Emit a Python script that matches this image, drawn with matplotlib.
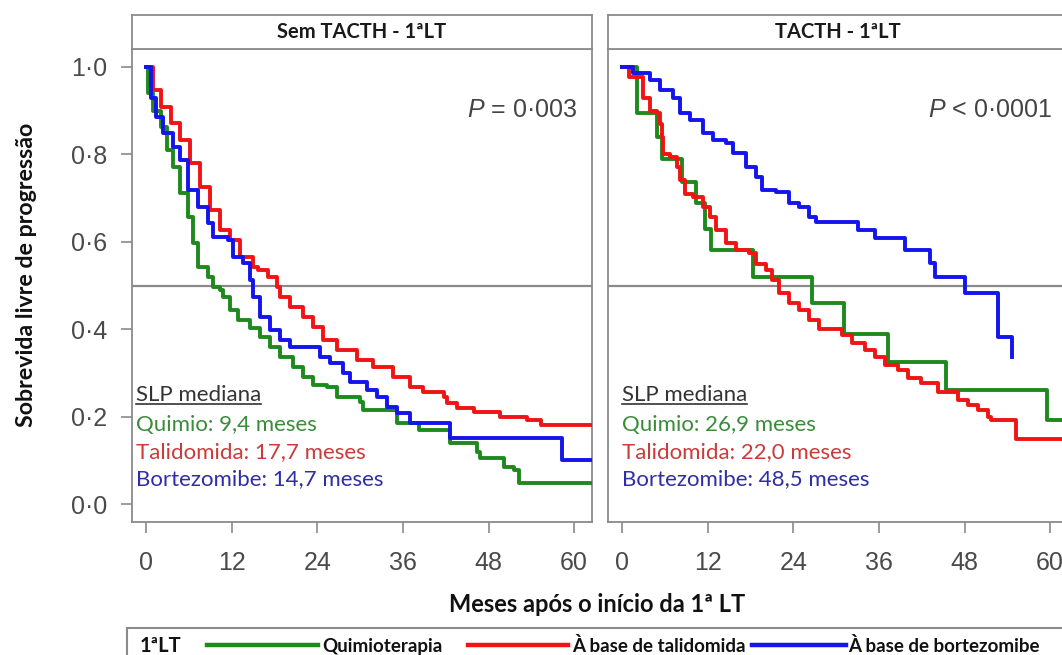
import matplotlib.pyplot as plt
from matplotlib.lines import Line2D
from matplotlib.patches import Rectangle

plt.rcParams['mathtext.fontset'] = 'custom'
plt.rcParams['mathtext.it'] = 'Liberation Sans:italic'
plt.rcParams['mathtext.rm'] = 'Liberation Sans'

# --- data (months, survival) ---
# Sem TACTH
sem_quimio_t = [0, 0.3, 1.0, 2.0, 2.9, 3.8, 4.8, 5.8, 6.6, 7.2, 8.6, 9.4, 10.4, 10.8, 11.8, 12.9,
                14.6, 16.0, 17.4, 18.8, 20.6, 22.0, 23.4, 25.4, 26.8, 30.0, 30.4, 35.2, 38.2,
                42.6, 46.4, 46.8, 50.1, 51.5, 52.2, 62.5]
sem_quimio_s = [1.0, 0.94, 0.90, 0.863, 0.81, 0.771, 0.712, 0.657, 0.597, 0.543, 0.52, 0.497,
                0.49, 0.474, 0.444, 0.421, 0.403, 0.382, 0.359, 0.336, 0.314, 0.291, 0.272,
                0.268, 0.245, 0.233, 0.215, 0.185, 0.169, 0.14, 0.119, 0.105, 0.085, 0.078,
                0.048, 0.048]
sem_talid_t = [0, 1.0, 2.0, 3.4, 4.8, 6.2, 7.6, 9.0, 10.4, 11.8, 13.2, 15.0, 15.6, 17.0, 18.4,
               18.8, 20.2, 22.0, 23.4, 24.8, 26.8, 29.6, 31.8, 34.6, 37.0, 38.8, 41.7, 42.2,
               43.6, 45.9, 49.6, 53.4, 55.3, 62.5]
sem_talid_s = [1.0, 0.947, 0.908, 0.872, 0.833, 0.78, 0.725, 0.673, 0.627, 0.604, 0.565, 0.543,
               0.535, 0.52, 0.497, 0.474, 0.451, 0.428, 0.405, 0.375, 0.352, 0.33, 0.314,
               0.291, 0.268, 0.256, 0.245, 0.231, 0.22, 0.21, 0.2, 0.192, 0.181, 0.181]
sem_bortez_t = [0, 0.6, 1.3, 2.4, 3.8, 4.8, 5.8, 7.2, 8.6, 9.4, 11.4, 12.2, 13.6, 14.6, 15.0,
                16.0, 17.4, 18.8, 20.2, 24.4, 25.8, 27.6, 28.6, 31.0, 32.4, 33.8, 35.2, 37.0,
                42.6, 58.3, 62.5]
sem_bortez_s = [1.0, 0.93, 0.886, 0.849, 0.817, 0.787, 0.719, 0.68, 0.643, 0.611, 0.604, 0.565,
                0.551, 0.513, 0.474, 0.428, 0.398, 0.375, 0.359, 0.336, 0.323, 0.30, 0.279,
                0.261, 0.245, 0.222, 0.208, 0.185, 0.151, 0.10, 0.10]

# TACTH
tacth_quimio_t = [0, 2.1, 4.9, 5.6, 8.4, 10.4, 11.6, 12.5, 18.3, 26.6, 31.1, 37.3, 45.4, 59.5, 62.5]
tacth_quimio_s = [1.0, 0.895, 0.84, 0.79, 0.737, 0.689, 0.63, 0.581, 0.52, 0.46, 0.39, 0.325,
                  0.261, 0.192, 0.192]
tacth_talid_t = [0, 0.9, 2.9, 3.9, 4.9, 5.3, 5.6, 5.7, 6.7, 7.7, 8.1, 8.8, 9.9, 11.3, 12.3, 13.2,
                 14.6, 16.0, 17.8, 18.8, 20.2, 21.0, 22.0, 23.4, 24.8, 26.2, 27.6, 30.8, 32.2,
                 34.1, 35.5, 36.9, 38.7, 40.1, 41.9, 44.3, 47.1, 48.5, 49.9, 51.3, 51.7, 55.2,
                 62.5]
tacth_talid_s = [1.0, 0.977, 0.93, 0.90, 0.895, 0.87, 0.84, 0.80, 0.795, 0.771, 0.741, 0.71,
                 0.703, 0.68, 0.657, 0.627, 0.597, 0.581, 0.574, 0.55, 0.535, 0.513, 0.483,
                 0.46, 0.444, 0.421, 0.40, 0.387, 0.368, 0.352, 0.337, 0.318, 0.307, 0.288,
                 0.277, 0.256, 0.238, 0.227, 0.215, 0.2, 0.192, 0.15, 0.15]
tacth_bortez_t = [0, 1.5, 3.9, 5.3, 7.1, 8.1, 9.5, 11.3, 12.7, 14.6, 15.5, 17.4, 18.8, 19.6, 21.6,
                  23.4, 24.8, 26.2, 27.2, 33.1, 35.5, 39.7, 43.2, 43.9, 48.0, 52.7, 54.7]
tacth_bortez_s = [1.0, 0.986, 0.97, 0.947, 0.93, 0.895, 0.879, 0.849, 0.833, 0.826, 0.803, 0.771,
                  0.748, 0.718, 0.714, 0.689, 0.68, 0.657, 0.645, 0.627, 0.608, 0.581, 0.551,
                  0.52, 0.482, 0.383, 0.337]

panel_titles = ['Sem TACTH - 1ªLT', 'TACTH - 1ªLT']
p_values = [r'$\mathit{P}$ = 0·003', r'$\mathit{P}$ < 0·0001']
medianas = [['Quimio: 9,4 meses', 'Talidomida: 17,7 meses', 'Bortezomibe: 14,7 meses'],
            ['Quimio: 26,9 meses', 'Talidomida: 22,0 meses', 'Bortezomibe: 48,5 meses']]
legend_labels = ['Quimioterapia', 'À base de talidomida', 'À base de bortezomibe']
x_ticks = [0, 12, 24, 36, 48, 60]
y_ticks = [0.0, 0.2, 0.4, 0.6, 0.8, 1.0]
y_tick_labels = ['0·0', '0·2', '0·4', '0·6', '0·8', '1·0']

line_colors = ['#1e8a1e', '#f01414', '#1414ec']
text_colors = ['#3a8c3a', '#cc3a3a', '#2e2ea6']
frame_gray = '#8a8a8a'
label_font = 'Lato'
num_font = 'Liberation Sans'

W, H = 1062, 655
fig = plt.figure(figsize=(W / 100, H / 100), dpi=100)


def fx(px):
    return px / W


def fy(py):
    return 1 - py / H


curves = [
    [(sem_quimio_t, sem_quimio_s), (sem_talid_t, sem_talid_s), (sem_bortez_t, sem_bortez_s)],
    [(tacth_quimio_t, tacth_quimio_s), (tacth_talid_t, tacth_talid_s), (tacth_bortez_t, tacth_bortez_s)],
]
panel_left = [132, 608]
p_right = [577, 1052]
slp_left = [136, 622]
panel_w = 460

texts_to_underline = []
for i in range(2):
    x0 = panel_left[i]
    ax = fig.add_axes([fx(x0), fy(522), fx(panel_w), (522 - 49) / H])
    for (t, s), c in zip(curves[i], line_colors):
        ax.step(t, s, where='post', color=c, lw=2.8, zorder=3)
    ax.axhline(0.5, color=frame_gray, lw=1.6, zorder=2)
    ax.set_xlim(-2, 62.5)
    ax.set_ylim(-0.041, 1.041)
    for sp in ax.spines.values():
        sp.set_color(frame_gray)
        sp.set_linewidth(1.3)
    ax.set_xticks(x_ticks)
    ax.set_xticklabels([str(v) for v in x_ticks], fontfamily=num_font, fontsize=18, color='#4a4a4a')
    ax.tick_params(axis='x', length=8, width=1.2, color='#8a8a8a', pad=13)
    if i == 0:
        ax.set_yticks(y_ticks)
        ax.set_yticklabels(y_tick_labels, fontfamily=num_font, fontsize=18, color='#4a4a4a')
        ax.tick_params(axis='y', length=8, width=1.2, color='#8a8a8a', pad=10)
    else:
        ax.set_yticks([])

    # P value
    fig.text(fx(p_right[i]), fy(110), p_values[i], ha='right', va='center',
             fontfamily=num_font, fontsize=18, color='#444444')

    # median PFS block
    t0 = fig.text(fx(slp_left[i]), fy(401), 'SLP mediana', ha='left', va='baseline',
                  fontfamily=label_font, fontsize=16, color='#333333')
    texts_to_underline.append(t0)
    for k, (txt, c) in enumerate(zip(medianas[i], text_colors)):
        fig.text(fx(slp_left[i]), fy(431 + 27 * k), txt, ha='left', va='baseline',
                 fontfamily=label_font, fontsize=16, color=c)

    # strip
    sax = fig.add_axes([fx(x0), fy(49), fx(panel_w), 34 / H])
    sax.set_xticks([])
    sax.set_yticks([])
    for sp in sax.spines.values():
        sp.set_color(frame_gray)
        sp.set_linewidth(1.3)
    sax.text(0.5, 0.5, panel_titles[i], transform=sax.transAxes, ha='center', va='center',
             fontfamily=label_font, fontweight='bold', fontsize=14.5, color='#1a1a1a')

fig.text(fx(27), fy(275), 'Sobrevida livre de progressão', rotation=90, ha='center', va='center',
         fontfamily=label_font, fontweight='bold', fontsize=16.7, color='#111111')
fig.text(fx(597), fy(605), 'Meses após o início da 1ª LT', ha='center', va='center',
         fontfamily=label_font, fontweight='bold', fontsize=17, color='#111111')

# legend strip at the bottom
fig.add_artist(Rectangle((fx(127), -0.1), 1.0, fy(628) + 0.1, transform=fig.transFigure,
                         fill=False, edgecolor=frame_gray, lw=1.5))
fig.text(fx(140), fy(652), '1ªLT', ha='left', va='baseline', fontfamily=label_font,
         fontweight='bold', fontsize=14.5, color='#111111')
leg_line_x = [(207, 318), (468, 568), (752, 846)]
leg_text_x = [322, 572, 848]
for (a, b), tx, lab, c in zip(leg_line_x, leg_text_x, legend_labels, line_colors):
    fig.add_artist(Line2D([fx(a), fx(b)], [fy(645), fy(645)], transform=fig.transFigure,
                          color=c, lw=3.2))
    fig.text(fx(tx), fy(652), lab, ha='left', va='baseline', fontfamily=label_font,
             fontweight='bold', fontsize=13.5, color='#111111')

# underline "SLP mediana"
fig.canvas.draw()
renderer = fig.canvas.get_renderer()
for t0 in texts_to_underline:
    bb = t0.get_window_extent(renderer).transformed(fig.transFigure.inverted())
    y_line = t0.get_position()[1] - 3 / H
    fig.add_artist(Line2D([bb.x0, bb.x1], [y_line, y_line], transform=fig.transFigure,
                          color='#333333', lw=1.2))

fig.savefig('out.png', dpi=100)
